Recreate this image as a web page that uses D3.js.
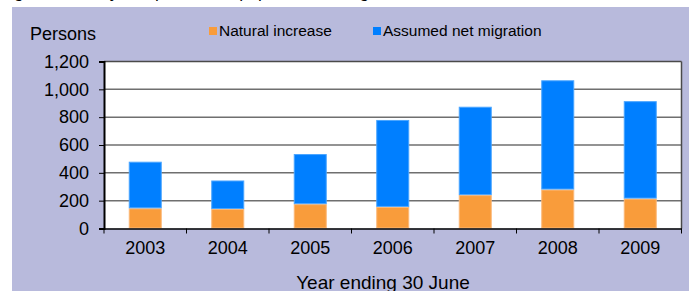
<!DOCTYPE html>
<html>
<head>
<meta charset="utf-8">
<script src="https://cdn.jsdelivr.net/npm/d3@7"></script>
<style>
  html, body { margin: 0; padding: 0; background: #fff; }
  svg { display: block; font-family: "Liberation Sans", Arial, sans-serif; }
</style>
</head>
<body>
<svg id="chart"></svg>
<script>
// data
var years = ["2003", "2004", "2005", "2006", "2007", "2008", "2009"];
var naturalIncrease = [145, 140, 175, 155, 240, 280, 215];
var netMigration = [335, 205, 360, 625, 635, 785, 700];
var seriesNames = ["Natural increase", "Assumed net migration"];
var seriesColors = ["#f99c3b", "#007fff"];
var edgeColors = ["#fbb878", "#4aa5ff"];
var yTicks = [0, 200, 400, 600, 800, 1000, 1200];

var W = 689, H = 291;
var svg = d3.select("#chart").attr("width", W).attr("height", H);

// cut off title (only descenders visible)
svg.append("text")
    .attr("x", 1).attr("y", -2)
    .style("font-style", "italic").style("font-size", "17px")
    .attr("fill", "#000")
    .text("Figure 2: Yearly components of population change");

// panel
svg.append("rect").attr("x", 12).attr("y", 7).attr("width", W - 12).attr("height", H - 7)
    .attr("fill", "#b8badc");

var plot = {left: 104, top: 61.5, right: 681.5, bottom: 228.5};

var x = d3.scaleBand().domain(years).range([plot.left, plot.right]).paddingInner(0.6).paddingOuter(0.3);
var xb = d3.scaleBand().domain(years).range([plot.left, plot.right]);
var y = d3.scaleLinear().domain([0, 1200]).range([plot.bottom, plot.top]);

svg.append("rect").attr("x", plot.left).attr("y", plot.top)
    .attr("width", plot.right - plot.left).attr("height", plot.bottom - plot.top)
    .attr("fill", "#fff");

// gridlines
svg.append("g").selectAll("line").data(yTicks.slice(1, -1)).enter().append("line")
    .attr("x1", plot.left).attr("x2", plot.right)
    .attr("y1", function (d) { return y(d); }).attr("y2", function (d) { return y(d); })
    .attr("stroke", "#6f6f6f").attr("stroke-width", 1.5);

// stacked bars
var rows = years.map(function (yr, i) {
    return {year: yr, nat: naturalIncrease[i], mig: netMigration[i]};
});
var stack = d3.stack().keys(["nat", "mig"])(rows);

svg.append("g").selectAll("g").data(stack).enter().append("g")
    .attr("fill", function (d, i) { return seriesColors[i]; })
    .attr("stroke", function (d, i) { return edgeColors[i]; })
    .attr("stroke-width", 1)
    .selectAll("rect").data(function (d) { return d; }).enter().append("rect")
    .attr("x", function (d) { return x(d.data.year) + 0.5; })
    .attr("width", x.bandwidth() - 1)
    .attr("y", function (d) { return y(d[1]) + 0.5; })
    .attr("height", function (d) { return y(d[0]) - y(d[1]) - 1; });

// plot border
svg.append("line").attr("x1", plot.left).attr("x2", plot.right).attr("y1", plot.top).attr("y2", plot.top)
    .attr("stroke", "#4a4a4a").attr("stroke-width", 1.5);
svg.append("line").attr("x1", plot.right).attr("x2", plot.right).attr("y1", plot.top).attr("y2", plot.bottom)
    .attr("stroke", "#4a4a4a").attr("stroke-width", 1.5);

// y axis
var yAxis = svg.append("g").attr("transform", "translate(" + plot.left + ",0)")
    .call(d3.axisLeft(y).tickValues(yTicks).tickSize(5).tickPadding(10).tickFormat(d3.format(",")));
yAxis.select(".domain").attr("stroke", "#000").attr("stroke-width", 2);
yAxis.selectAll(".tick line").attr("stroke", "#000");
yAxis.selectAll("text").style("font-size", "18px").attr("fill", "#000");

// x axis
var xAxis = svg.append("g").attr("transform", "translate(0," + plot.bottom + ")")
    .call(d3.axisBottom(xb).tickSize(0).tickPadding(13));
xAxis.select(".domain").attr("stroke", "#000").attr("stroke-width", 1.5);
xAxis.selectAll("text").style("font-size", "18px").attr("fill", "#000");
// ticks between categories
svg.append("g").selectAll("line").data(years.concat(["end"])).enter().append("line")
    .attr("x1", function (d, i) { return plot.left + i * xb.bandwidth(); })
    .attr("x2", function (d, i) { return plot.left + i * xb.bandwidth(); })
    .attr("y1", plot.bottom).attr("y2", plot.bottom + 5)
    .attr("stroke", "#000");

// axis titles
svg.append("text").attr("x", 30).attr("y", 40).style("font-size", "18px").text("Persons");
svg.append("text").attr("x", 383).attr("y", 289).attr("text-anchor", "middle")
    .style("font-size", "19px").text("Year ending 30 June");

// legend
var legendX = [209, 373];
var leg = svg.append("g").selectAll("g").data(seriesNames).enter().append("g")
    .attr("transform", function (d, i) { return "translate(" + legendX[i] + ",0)"; });
leg.append("rect").attr("x", 0).attr("y", 27).attr("width", 8).attr("height", 8)
    .attr("fill", function (d, i) { return seriesColors[i]; });
leg.append("text").attr("x", 10).attr("y", 36).style("font-size", "15.5px")
    .text(function (d) { return d; });
</script>
</body>
</html>
